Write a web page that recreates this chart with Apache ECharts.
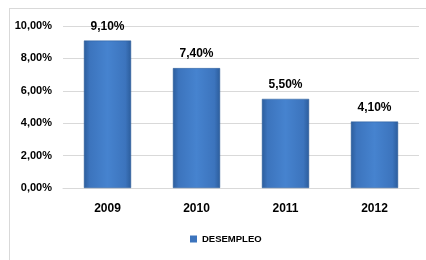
<!DOCTYPE html>
<html>
<head>
<meta charset="utf-8">
<script src="https://cdn.jsdelivr.net/npm/echarts@6/dist/echarts.min.js"></script>
<style>
  html, body { margin: 0; padding: 0; background: #fff; }
  #frame { position: absolute; left: 9px; top: 8px; width: 430px; height: 270px; border: 1px solid #d9d9d9; box-sizing: border-box; }
  #chart { position: absolute; left: 0; top: 0; width: 426px; height: 260px; }
</style>
</head>
<body>
<div id="frame"></div>
<div id="chart"></div>
<script>
const years = ['2009', '2010', '2011', '2012'];
const desempleo = [9.1, 7.4, 5.5, 4.1];
const seriesName = 'DESEMPLEO';

const font = '"Liberation Sans", Arial, sans-serif';
const fmt = function (v) {
  return v.toFixed(2).replace('.', ',') + '%';
};

const chartDom = document.getElementById('chart');
const mychart = echarts.init(chartDom);

const barColor = new echarts.graphic.LinearGradient(0, 0, 1, 0, [
  { offset: 0, color: '#2c5d9c' },
  { offset: 0.12, color: '#3c74bd' },
  { offset: 0.5, color: '#4683cf' },
  { offset: 0.88, color: '#3c74bd' },
  { offset: 1, color: '#2c5d9c' },
]);

const option = {
  animation: false,
  textStyle: { fontFamily: font },
  grid: { left: 63, right: 7, top: 26, bottom: 72 },
  legend: {
    data: [seriesName],
    bottom: 11,
    left: 185,
    itemWidth: 7,
    itemHeight: 7,
    itemGap: 1,
    icon: 'rect',
    itemStyle: { color: '#3c74bd', borderWidth: 0 },
    textStyle: { fontFamily: font, fontWeight: 'bold', fontSize: 9.5, color: '#000' },
  },
  xAxis: {
    type: 'category',
    data: years,
    axisTick: { show: false },
    axisLine: { lineStyle: { color: '#d9d9d9' } },
    axisLabel: { color: '#000', fontWeight: 'bold', fontSize: 12, margin: 15 },
  },
  yAxis: {
    type: 'value',
    min: 0,
    max: 10,
    interval: 2,
    axisLine: { show: false },
    axisTick: { show: false },
    splitLine: { lineStyle: { color: '#d9d9d9' } },
    axisLabel: {
      color: '#000',
      fontWeight: 'bold',
      fontSize: 11,
      margin: 11,
      formatter: fmt,
    },
  },
  series: [{
    name: seriesName,
    type: 'bar',
    data: desempleo,
    barWidth: '53%',
    itemStyle: { color: barColor, borderColor: '#2a5a96', borderWidth: 0.5 },
    label: {
      show: true,
      position: 'top',
      distance: 8,
      color: '#000',
      fontWeight: 'bold',
      fontSize: 12,
      formatter: function (p) { return fmt(p.value); },
    },
  }],
};
mychart.setOption(option);
</script>
</body>
</html>
